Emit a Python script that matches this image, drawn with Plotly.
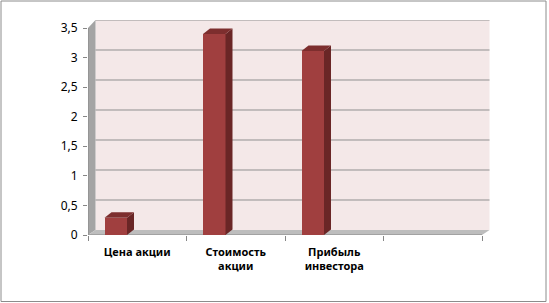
import plotly.graph_objects as go

# ---- data ----
categories = ["Цена акции", "Стоимость акции", "Прибыль инвестора", ""]
tick_labels = ["Цена акции", "Стоимость<br>акции", "Прибыль<br>инвестора", ""]
values = [0.29, 3.40, 3.11]
y_ticks = [0, 0.5, 1, 1.5, 2, 2.5, 3, 3.5]

# ---- geometry / style ----
W, H = 549, 303
L, R, T, B = 88, 59, 20, 68
PX_X = 98.5          # px per category
PX_Y = 207 / 3.5     # px per unit
XR = [-0.5, -0.5 + (W - L - R) / PX_X]
YR = [0, (H - T - B) / PX_Y]
DX = 7.5 / PX_X      # wall depth (x)
def wall_y(v):
    return (5 + 60 * v) / PX_Y

BAR_SHIFT = -21.5 / PX_X
BW = 22.5 / PX_X
BDX = 7 / PX_X
BDY = 5.5 / PX_Y

FRONT = "#a03f3f"
TOP = "#7d2e2e"
SIDE = "#6a2626"
WALL = "#f4e8e8"
GRID = "#8f8f8f"
SIDEWALL = "#a4a4a4"
FLOOR = "#bdbdbd"
AXIS = "#868686"

fig = go.Figure()

def poly(xs, ys, fill, xa="x", ya="y"):
    fig.add_trace(go.Scatter(
        x=xs + [xs[0]], y=ys + [ys[0]], mode="lines", fill="toself",
        fillcolor=fill, line=dict(color=fill, width=0),
        hoverinfo="skip", showlegend=False, xaxis=xa, yaxis=ya))

x0, x1 = -0.5, len(categories) - 0.5
ytop = y_ticks[-1]

# back wall
poly([x0 + DX, x1 + DX, x1 + DX, x0 + DX],
     [wall_y(0), wall_y(0), wall_y(ytop), wall_y(ytop)], WALL)
# side wall
poly([x0, x0 + DX, x0 + DX, x0],
     [0, wall_y(0), wall_y(ytop), ytop], SIDEWALL)
# floor
poly([x0, x1, x1 + DX, x0 + DX],
     [0, 0, wall_y(0), wall_y(0)], FLOOR)

# gridlines on back wall
for v in y_ticks[1:]:
    fig.add_trace(go.Scatter(
        x=[x0 + DX, x1 + DX], y=[wall_y(v), wall_y(v)], mode="lines",
        line=dict(color=GRID, width=1), hoverinfo="skip", showlegend=False))

# front axis lines
fig.add_trace(go.Scatter(x=[x0, x0, x1], y=[ytop, 0, 0], mode="lines",
                         line=dict(color=AXIS, width=1),
                         hoverinfo="skip", showlegend=False))

# bars: front face (overlay axes so they sit above the walls)
fig.add_trace(go.Bar(
    x=[i + BAR_SHIFT for i in range(len(values))], y=values, width=BW,
    marker=dict(color=FRONT, line=dict(width=0)), showlegend=False,
    hovertext=categories[:len(values)], xaxis="x2", yaxis="y2"))

# bars: side + top faces
for i, v in enumerate(values):
    c = i + BAR_SHIFT
    xl, xr = c - BW / 2, c + BW / 2
    poly([xr, xr + BDX, xr + BDX, xr], [0, BDY, v + BDY, v], SIDE, "x2", "y2")
    poly([xl, xr, xr + BDX, xl + BDX], [v, v, v + BDY, v + BDY], TOP, "x2", "y2")

font = dict(family="Noto Sans", color="#000000")

fig.update_layout(
    width=W, height=H, autosize=False,
    margin=dict(l=L, r=R, t=T, b=B, pad=0),
    paper_bgcolor="white", plot_bgcolor="white",
    separators=", ",
    bargap=0,
    font=font,
    xaxis=dict(range=XR, tickvals=list(range(len(categories))), ticktext=tick_labels,
               ticks="", showline=False, showgrid=False, zeroline=False,
               tickfont=dict(family="Noto Sans", size=11, color="#000", weight="bold"),
               ticklabelstandoff=9),
    xaxis2=dict(range=XR, overlaying="x", anchor="y2", side="bottom",
                tickvals=[x0 + k for k in range(len(categories) + 1)],
                ticks="outside", ticklen=5, tickcolor=AXIS, tickwidth=1,
                showticklabels=False, showline=False, showgrid=False, zeroline=False),
    yaxis=dict(range=YR, tickvals=y_ticks, ticks="outside", ticklen=4,
               tickcolor=AXIS, tickwidth=1, showline=False, showgrid=False,
               zeroline=False, ticklabelstandoff=3,
               tickfont=dict(family="Noto Sans", size=12, color="#000")),
    yaxis2=dict(range=YR, overlaying="y", anchor="x2", visible=False,
                showgrid=False, zeroline=False),
    shapes=[dict(type="rect", xref="paper", yref="paper",
                 x0=(1 - L) / (W - L - R), x1=(546 - L) / (W - L - R),
                 y0=(H - B - 301.5) / (H - T - B), y1=(H - B - 1) / (H - T - B),
                 line=dict(color="#8c8c8c", width=1), fillcolor="rgba(0,0,0,0)",
                 layer="above")],
)

fig.write_html("out.html")
